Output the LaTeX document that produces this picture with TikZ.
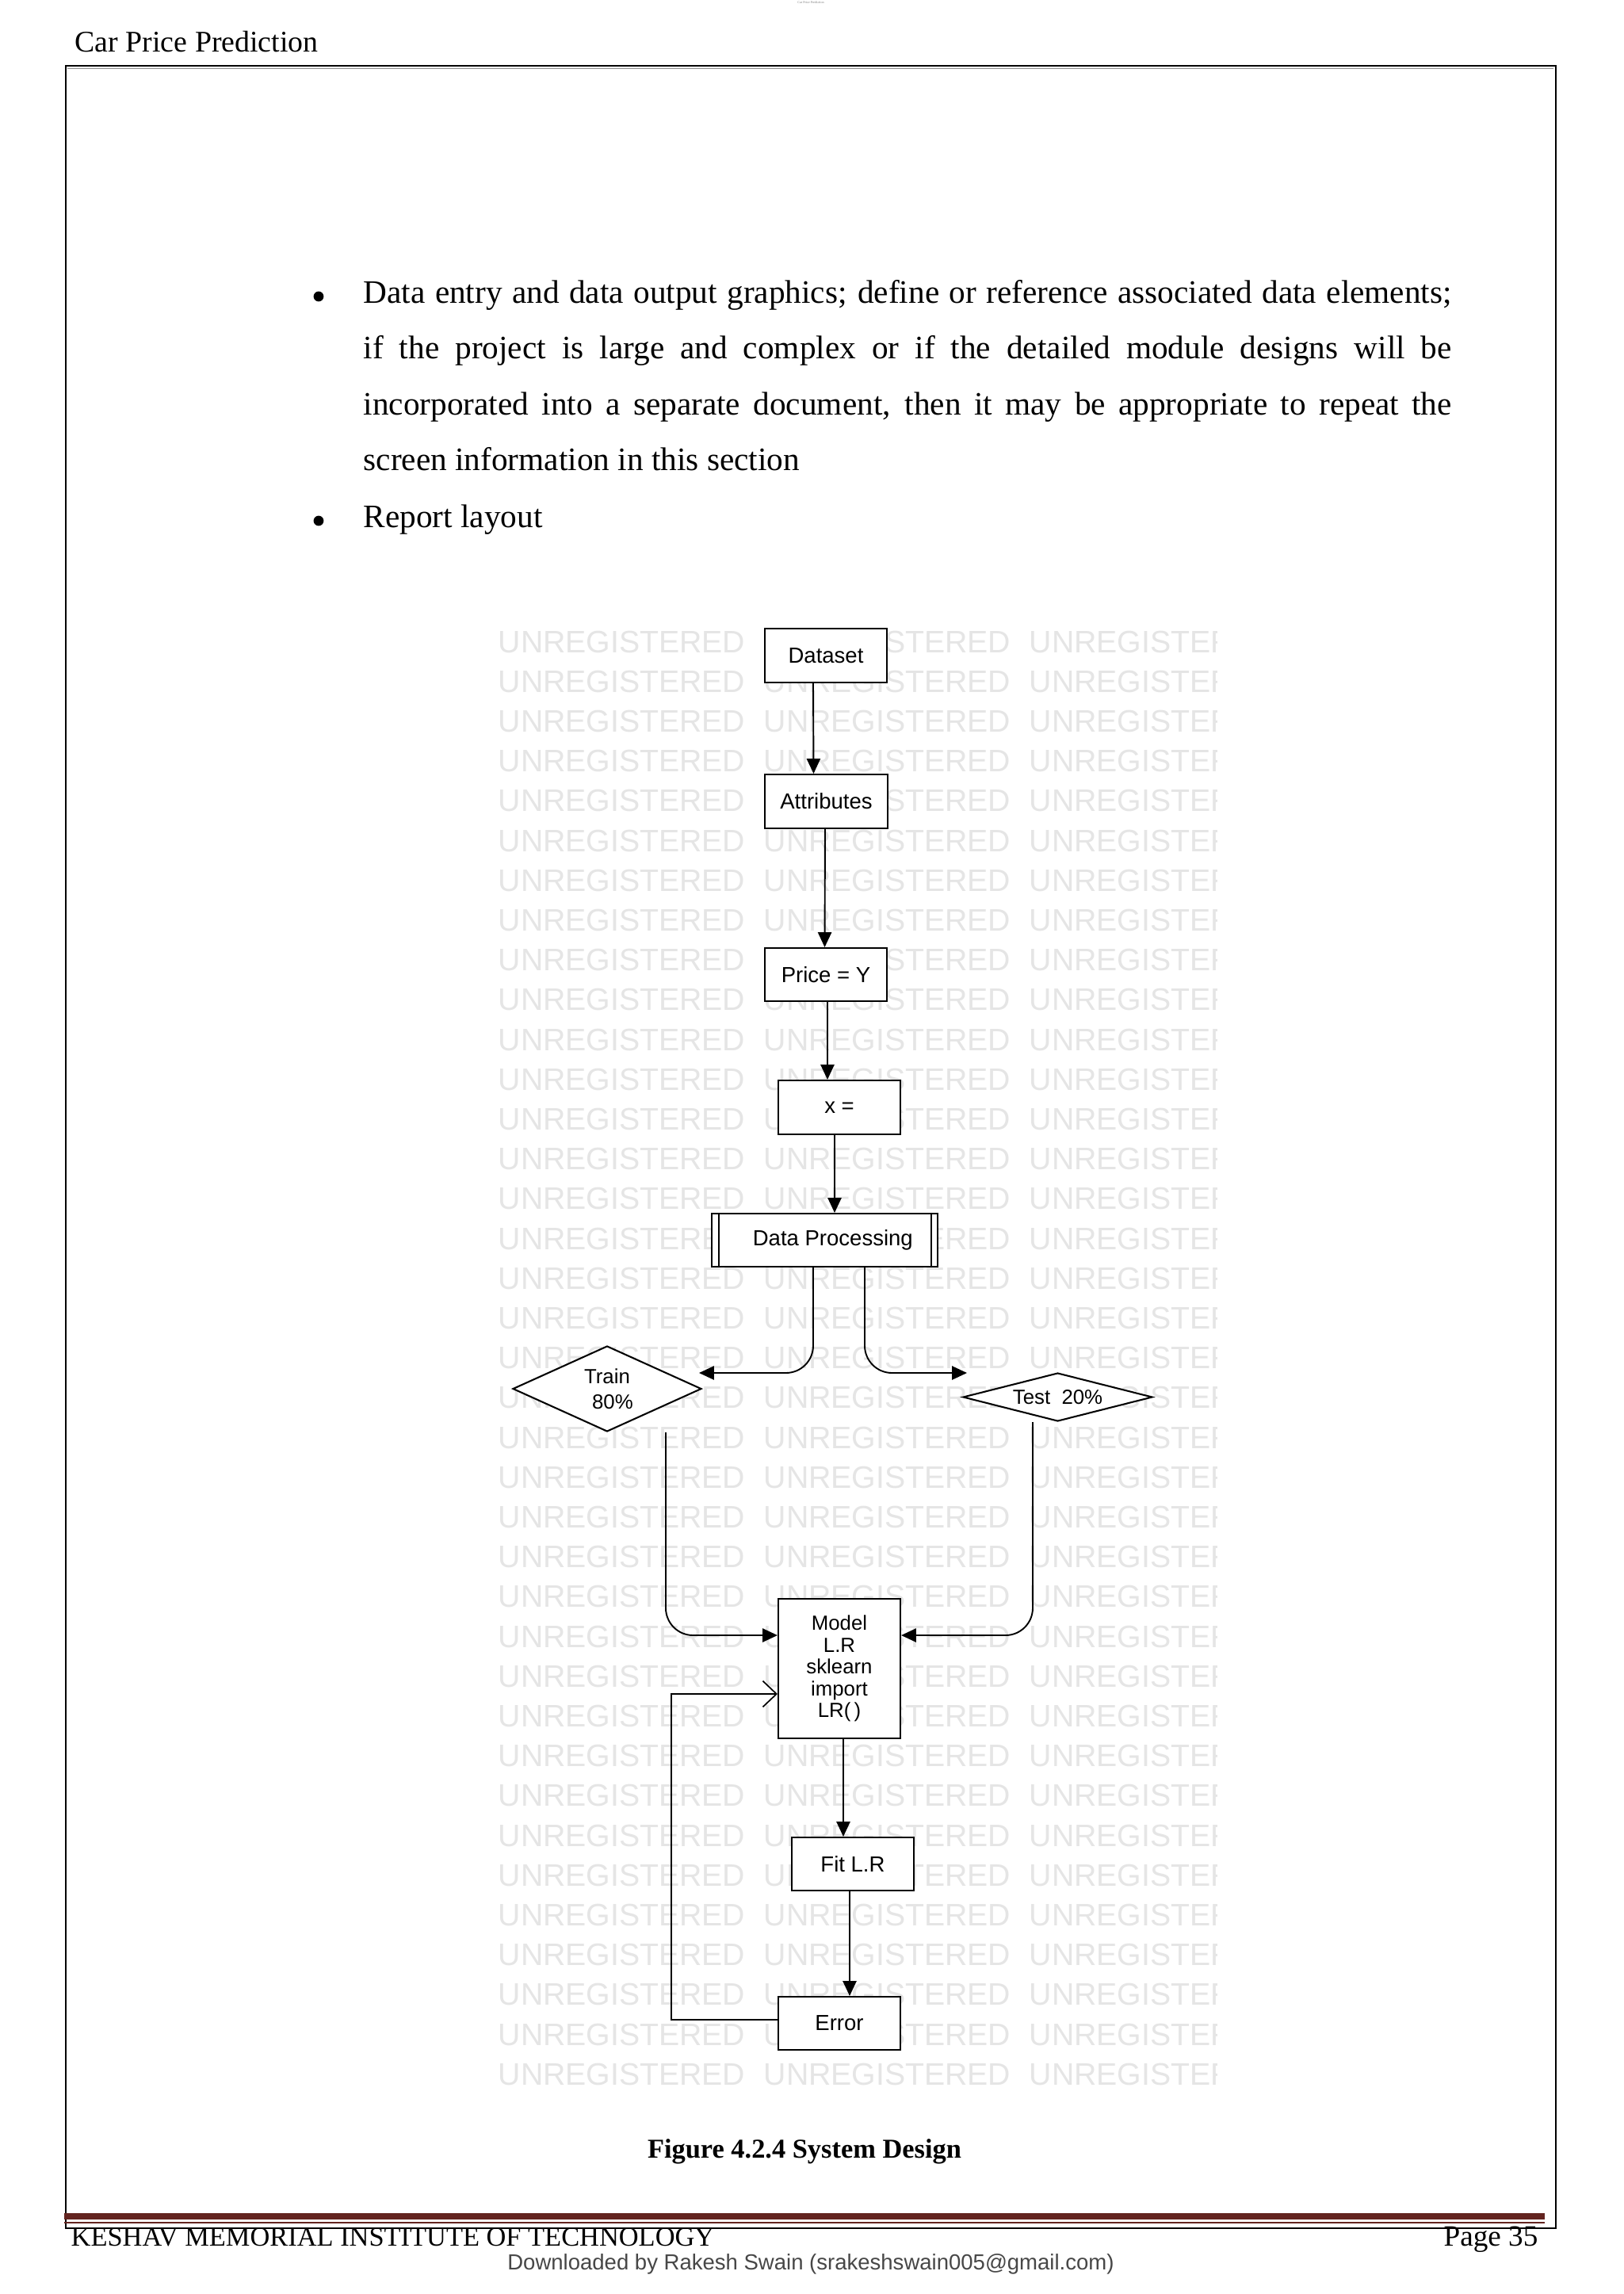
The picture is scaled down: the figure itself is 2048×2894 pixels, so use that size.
\documentclass[tikz,border=0pt]{standalone}
\usepackage{fontspec}
\setmainfont{Liberation Serif}
\newfontfamily\arialf{Liberation Sans}
\usetikzlibrary{shapes.geometric,arrows.meta,calc}
\definecolor{kmitred}{RGB}{99,36,32}
\def\pxu{0.29067pt}
\begin{document}
\begin{tikzpicture}[x=0.29067pt, y=-0.29067pt,
  box/.style={draw, line width=0.6pt, fill=white, inner sep=0pt, align=center,
    font=\arialf\fontsize{8}{9.6}\selectfont},
  dia/.style={diamond, draw, line width=0.6pt, fill=white, inner sep=0pt, align=center,
    font=\arialf\fontsize{7.5}{9.3}\selectfont},
  arr/.style={line width=0.55pt, -{Triangle[length=5.5pt,width=5pt]}},
  fb/.style={line width=0.5pt, -{Straight Barb[length=5pt,width=9.5pt]}},
  wm/.style={text=black!10, font=\arialf\fontsize{11.4}{12}\selectfont, anchor=base west, inner sep=0pt},
  body/.style={inner sep=0pt, font=\fontsize{12}{20.5}\selectfont},
  bul/.style={circle, fill=black, inner sep=0pt, minimum size=3.7pt}]
\useasboundingbox (0,0) rectangle (2048,2894);
\fill[white] (0,0) rectangle (2048,2894);

% tiny top header
\node[anchor=base, inner sep=0pt, text=black!50, font=\fontsize{1.2}{1.4}\selectfont] (tiny) at (1023,5) {Car Price Prediction};
% header
\node[anchor=base west, inner sep=0pt, font=\fontsize{11}{13}\selectfont] (hdr) at (94,66) {Car Price Prediction};
% page border
\draw[line width=0.65pt] (83,83) rectangle (1963,2811);
\draw[black!45, line width=0.4pt] (85,86.5) -- (1960,86.5);

% body text
\node[bul] (b1) at (402,374) {};
\node[body, anchor=base west, text width=399.1pt, align=justify] (p1) at (458,382)
{Data entry and data output graphics; define or reference associated data elements;\linebreak
if the project is large and complex or if the detailed module designs will be\linebreak
incorporated into a separate document, then it may be appropriate to repeat the\linebreak
screen information in this section};
\node[bul] (b2) at (402,657) {};
\node[body, anchor=base west] (p2) at (458,665) {Report layout};

% watermark
\begin{scope}
\clip (624,790) rectangle (1535,2640);
\foreach \r in {0,...,36}{
  \foreach \c in {0,1,2}{
    \node[wm] (wm-\r-\c) at ({628+335*\c},{823+50.2*\r}) {UNREGISTERED};
  }
}
\end{scope}

% diagram nodes
\node[box, minimum width=154*\pxu, minimum height=68*\pxu] (ds) at (1042,827) {Dataset};
\node[box, minimum width=155*\pxu, minimum height=68*\pxu] (at) at (1042.5,1011) {Attributes};
\node[box, minimum width=154*\pxu, minimum height=67*\pxu] (pr) at (1042,1229.5) {Price = Y};
\node[box, minimum width=154*\pxu, minimum height=68*\pxu] (xe) at (1059,1397) {x =};
\node[box, minimum width=285*\pxu, minimum height=67*\pxu] (dp) at (1040.5,1564.5) {\hspace*{6pt}Data Processing};
\draw[line width=0.6pt] ($(dp.north west)+(10,0)$) -- ($(dp.south west)+(10,0)$);
\draw[line width=0.6pt] ($(dp.north east)+(-9,0)$) -- ($(dp.south east)+(-9,0)$);
\node[dia, aspect=2.2, minimum width=238*\pxu, minimum height=108*\pxu] (tr) at (766,1752) {Train\\\hspace*{4pt}80\%};
\node[dia, aspect=3.9, minimum width=239*\pxu, minimum height=61*\pxu] (te) at (1334.5,1762.5) {Test~~20\%};
\node[box, minimum width=154*\pxu, minimum height=176*\pxu, font=\arialf\fontsize{7.5}{8}\selectfont] (mo) at (1059,2105) {Model\\L.R\\sklearn\\import\\LR(\,)};
\node[box, minimum width=154*\pxu, minimum height=67*\pxu] (fi) at (1076,2351.5) {Fit L.R};
\node[box, minimum width=154*\pxu, minimum height=67*\pxu] (er) at (1059,2552.5) {Error};

\coordinate (trin) at (882,1732);
\coordinate (tein) at (1220,1732);

% connectors
\draw[arr] ($(ds.south)+(-16,0)$) -- ($(at.north)+(-16,0)$);
\draw[arr] ($(at.south)+(-1.5,0)$) -- ($(pr.north)+(-1.5,0)$);
\draw[arr] ($(pr.south)+(2,0)$) -- ($(xe.north)+(-15,0)$);
\draw[arr] ($(xe.south)+(-6,0)$) -- ($(dp.north)+(12.5,0)$);
\draw[arr, rounded corners=10] ($(dp.south)+(-14.5,0)$) |- (trin);
\draw[arr, rounded corners=10] ($(dp.south)+(50.5,0)$) |- (tein);
\draw[arr, rounded corners=10] ($(tr.south)+(74,0)$) |- ($(mo.west)+(0,-42)$);
\draw[arr, rounded corners=10] ($(te.south)+(-31.5,0)$) |- ($(mo.east)+(0,-42)$);
\draw[arr] ($(mo.south)+(5,0)$) -- ($(fi.north)+(-12,0)$);
\draw[arr] ($(fi.south)+(-4,0)$) -- ($(er.north)+(13,0)$);
\draw[fb] ($(er.west)+(0,-4.5)$) -- ++(-134,0) |- ($(mo.west)+(0,32)$);

% caption
\node[anchor=base, inner sep=0pt, font=\bfseries\fontsize{10}{12}\selectfont] (cap) at (1015,2722) {Figure 4.2.4 System Design};

% footer
\fill[kmitred] (81,2792) rectangle (1949,2800);
\draw[kmitred, line width=0.45pt] (81,2804) -- (1949,2804);
\node[anchor=base west, inner sep=0pt, font=\fontsize{10}{12}\selectfont] (inst) at (89,2833) {KESHAV MEMORIAL INSTITUTE OF TECHNOLOGY};
\node[anchor=base east, inner sep=0pt, font=\fontsize{10.8}{12}\selectfont] (pg) at (1941,2833) {Page 35};
\node[anchor=base, inner sep=0pt, text=black!72, font=\arialf\fontsize{8}{10}\selectfont] (dl) at (1023,2863) {Downloaded by Rakesh Swain (srakeshswain005@gmail.com)};
\end{tikzpicture}
\end{document}
